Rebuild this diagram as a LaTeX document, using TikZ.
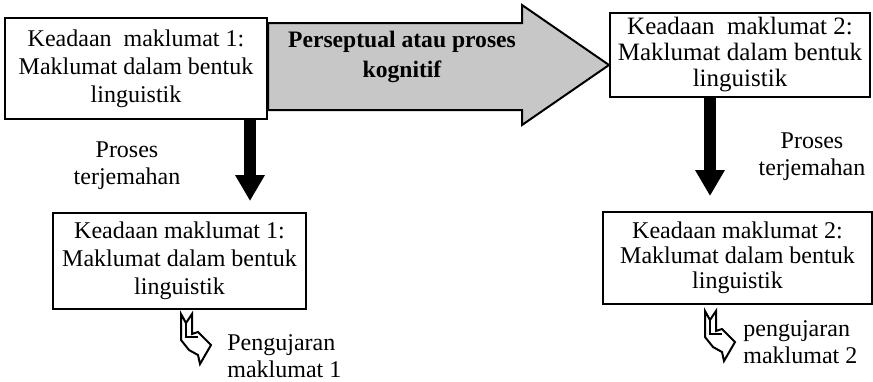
\documentclass[tikz,border=0pt]{standalone}
\usepackage{fontspec}
\setmainfont{Liberation Serif}
\usetikzlibrary{arrows.meta}

\begin{document}
\begin{tikzpicture}[x=0.5pt, y=-0.5pt,
  box/.style={draw, line width=1pt, inner sep=1pt, align=center,
              font=\fontsize{12}{14}\selectfont},
  lbl/.style={inner sep=0pt, font=\fontsize{12}{13.5}\selectfont},
  fatarr/.style={draw, line width=1pt, fill=black!22, line join=miter},
  downarr/.style={-{Triangle[length=13pt, width=14pt]}, line width=6pt},
  hook/.pic={
    \draw[line width=1pt, line join=miter] (0,0) -- (5,9) -- (11,0) -- (11,20) -- (17,18)
      -- (30,31) -- (19,50) -- (17,41) -- (8,36) -- (0,26) -- cycle;
    \draw[line width=1pt] (5,9) -- (5,23) -- (17,23);
  }
]
  \useasboundingbox (0,0) rectangle (873,381);
  \node[box, minimum width=131pt, minimum height=50.5pt] (k1top) at (136,68.5)
    {Keadaan\ \ maklumat 1:\\Maklumat dalam bentuk\\linguistik};
  \node[box, minimum width=130pt, minimum height=42pt,
        font=\fontsize{12.5}{13}\selectfont] (k2top) at (740,55)
    {Keadaan\ \ maklumat 2:\\Maklumat dalam bentuk\\linguistik};
  \node[box, minimum width=126.5pt, minimum height=48pt] (k1bot) at (179.5,261)
    {Keadaan maklumat 1:\\Maklumat dalam bentuk\\linguistik};
  \node[box, minimum width=134.5pt, minimum height=46pt,
        font=\fontsize{12}{12.5}\selectfont] (k2bot) at (737.5,258)
    {Keadaan maklumat 2:\\Maklumat dalam bentuk\\linguistik};

  % big arrow between the top boxes
  \draw[fatarr] (k1top.east |- 0,23) -- (522,23) -- (522,5) -- (k2top.west |- 0,65)
    -- (522,125) -- (522,110) -- (k1top.east |- 0,110) -- cycle;
  \node[font=\bfseries\fontsize{11.8}{15}\selectfont, align=center] (persep) at (402,57)
    {Perseptual atau proses\\kognitif};

  \draw[downarr, shorten >=5.5pt] (k1top.south -| 250,0) -- (k1bot.north -| 250,0);
  \draw[downarr, shorten >=7.5pt] (k2top.south -| 710,0) -- (k2bot.north -| 710,0);

  \node[lbl, align=center] (proses1) at (127,166) {Proses\\terjemahan};
  \node[lbl, align=center] (proses2) at (812,157) {Proses\\terjemahan};

  \pic at (181,314) {hook};
  \pic at (705,311) {hook};
  \node[lbl, align=left, anchor=west] (uji1) at (227,356) {Pengujaran\\maklumat 1};
  \node[lbl, align=left, anchor=west] (uji2) at (743,342) {pengujaran\\maklumat 2};
\end{tikzpicture}
\end{document}
